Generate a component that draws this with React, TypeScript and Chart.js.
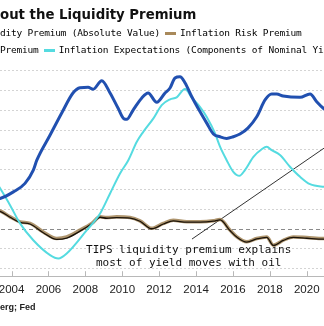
import React, { useEffect, useRef } from "react";
import { Chart, registerables } from "chart.js";

Chart.register(...registerables);

// ---- data ----
const TICK_YEARS = [2004, 2006, 2008, 2010, 2012, 2014, 2016, 2018, 2020];
const GRID_VALUES = [-0.2, -0.1, 0, 0.1, 0.2, 0.3, 0.4, 0.5, 0.6, 0.7, 0.8];

const RTP_YEARS = [2002.29, 2003.38, 2004.1, 2004.73, 2005.18, 2005.37, 2006.09, 2006.72, 2007.33, 2007.71, 2008.15, 2008.42, 2008.89, 2009.34, 2009.77, 2010.1, 2010.24, 2010.59, 2011.06, 2011.4, 2011.87, 2012.32, 2012.59, 2012.86, 2013.13, 2013.4, 2013.77, 2014.22, 2014.58, 2014.94, 2015.3, 2015.66, 2016.01, 2016.38, 2016.81, 2017.29, 2017.74, 2018.1, 2018.37, 2018.72, 2019.64, 2020.18, 2020.54, 2020.9, 2022.02];
const RTP_VALUES = [0.146, 0.155, 0.188, 0.231, 0.298, 0.348, 0.475, 0.586, 0.687, 0.714, 0.716, 0.706, 0.749, 0.687, 0.611, 0.556, 0.554, 0.601, 0.662, 0.687, 0.64, 0.687, 0.712, 0.763, 0.769, 0.739, 0.668, 0.592, 0.535, 0.48, 0.466, 0.458, 0.466, 0.48, 0.51, 0.567, 0.652, 0.682, 0.682, 0.672, 0.665, 0.682, 0.643, 0.61, 0.54];

const IE_YEARS = [2002.29, 2002.83, 2003.38, 2003.92, 2004.46, 2005.18, 2006.09, 2006.54, 2006.99, 2008.08, 2008.8, 2009.34, 2009.88, 2010.33, 2010.79, 2011.14, 2011.69, 2012.14, 2012.59, 2012.95, 2013.4, 2013.78, 2014.22, 2014.58, 2015.03, 2015.3, 2015.66, 2016.02, 2016.35, 2016.65, 2017.11, 2017.56, 2017.83, 2018.1, 2018.55, 2019.09, 2019.64, 2020.18, 2020.94, 2022.02];
const IE_VALUES = [0.348, 0.288, 0.206, 0.121, 0.029, -0.056, -0.131, -0.148, -0.123, -0.005, 0.079, 0.18, 0.281, 0.348, 0.441, 0.491, 0.559, 0.626, 0.655, 0.665, 0.707, 0.662, 0.616, 0.566, 0.483, 0.416, 0.348, 0.289, 0.269, 0.298, 0.365, 0.403, 0.416, 0.399, 0.374, 0.315, 0.264, 0.227, 0.214, 0.207];

const IRP_YEARS = [2002.29, 2003.38, 2003.92, 2004.46, 2005.0, 2005.72, 2006.45, 2006.99, 2007.71, 2008.35, 2008.8, 2009.16, 2009.7, 2010.42, 2010.96, 2011.6, 2012.23, 2012.77, 2013.5, 2014.22, 2014.94, 2015.3, 2015.84, 2016.21, 2016.75, 2017.29, 2017.83, 2018.19, 2018.73, 2019.27, 2020.0, 2020.9, 2022.02];
const IRP_VALUES = [0.111, 0.092, 0.062, 0.037, 0.029, -0.014, -0.047, -0.039, -0.005, 0.029, 0.062, 0.059, 0.062, 0.059, 0.042, 0.004, 0.029, 0.045, 0.037, 0.037, 0.042, 0.049, -0.005, -0.039, -0.064, -0.047, -0.039, -0.081, -0.056, -0.039, -0.042, -0.047, -0.045];

const LP_YEARS = [2002.29, 2003.38, 2003.92, 2004.46, 2005.0, 2005.72, 2006.45, 2006.99, 2007.71, 2008.35, 2008.8, 2009.16, 2009.7, 2010.42, 2010.96, 2011.6, 2012.23, 2012.77, 2013.5, 2014.22, 2014.94, 2015.3, 2015.84, 2016.21, 2016.75, 2017.29, 2017.83, 2018.19, 2018.73, 2019.27, 2020.0, 2020.9, 2022.02];
const LP_VALUES = [0.108, 0.09, 0.06, 0.034, 0.026, -0.018, -0.052, -0.045, -0.01, 0.027, 0.06, 0.055, 0.058, 0.056, 0.04, 0.002, 0.026, 0.042, 0.035, 0.035, 0.04, 0.047, -0.007, -0.04, -0.065, -0.049, -0.041, -0.082, -0.057, -0.042, -0.046, -0.05, -0.048];

const ARROW_YEARS = [2013.78, 2022.02];
const ARROW_VALUES = [-0.05, 0.478];

const NOTE_LINES = ["TIPS liquidity premium explains", "most of yield moves with oil"];
const NOTE_YEAR = 2013.6;
const NOTE_VALUES = [-0.108, -0.172];

const X_MIN = 2002.29;
const X_MAX = 2022.02;
const Y_MIN = -0.2374;
const Y_MAX = 0.8535;

const OFFSET_LEFT = 20;
const CANVAS_W = 364;
const CANVAS_H = 326;

const pts = (xs: number[], ys: number[]) => xs.map((x, i) => ({ x, y: ys[i] }));

const extrasPlugin = {
  id: "extras",
  afterDraw(chart: any) {
    const { ctx, scales, chartArea } = chart;
    const xs = scales.x;
    const ys = scales.y;
    ctx.save();
    ctx.strokeStyle = "#b8b8b8";
    ctx.lineWidth = 1;
    TICK_YEARS.forEach((t) => {
      const px = Math.round(xs.getPixelForValue(t)) + 0.5;
      ctx.beginPath();
      ctx.moveTo(px, chartArea.bottom);
      ctx.lineTo(px, chartArea.bottom - 5);
      ctx.stroke();
    });
    ctx.fillStyle = "#111";
    ctx.font = "11px 'DejaVu Sans Mono'";
    ctx.textAlign = "center";
    ctx.textBaseline = "middle";
    NOTE_LINES.forEach((line, i) => {
      ctx.fillText(line, xs.getPixelForValue(NOTE_YEAR), ys.getPixelForValue(NOTE_VALUES[i]));
    });
    ctx.restore();
  },
};

export default function App() {
  const ref = useRef<HTMLCanvasElement | null>(null);

  useEffect(() => {
    if (!ref.current) return;
    const common = { pointRadius: 0, pointHoverRadius: 0, fill: false, cubicInterpolationMode: "monotone" as const };
    const chart = new Chart(ref.current, {
      type: "line",
      data: {
        datasets: [
          { label: "Real Term Premium", data: pts(RTP_YEARS, RTP_VALUES), borderColor: "#2150b0", borderWidth: 3, ...common },
          { label: "Inflation Expectations", data: pts(IE_YEARS, IE_VALUES), borderColor: "#55dbe0", borderWidth: 2, ...common },
          { label: "TIPS Liquidity Premium (Absolute Value)", data: pts(LP_YEARS, LP_VALUES), borderColor: "#1a1208", borderWidth: 1.3, ...common },
          { label: "Inflation Risk Premium", data: pts(IRP_YEARS, IRP_VALUES), borderColor: "rgba(160,130,85,0.85)", borderWidth: 3.5, ...common },
          { label: "note", data: pts(ARROW_YEARS, ARROW_VALUES), borderColor: "#333", borderWidth: 1, pointRadius: 0, fill: false, tension: 0 },
        ] as any,
      },
      options: {
        animation: false,
        responsive: false,
        parsing: true,
        layout: { padding: { top: 60, bottom: 22, left: 0, right: 0 } },
        plugins: { legend: { display: false }, tooltip: { enabled: false }, title: { display: false } },
        scales: {
          x: {
            type: "linear",
            min: X_MIN,
            max: X_MAX,
            afterBuildTicks: (ax: any) => {
              ax.ticks = TICK_YEARS.map((v) => ({ value: v }));
            },
            grid: { display: false, drawTicks: false },
            border: { display: true, color: "#b8b8b8", width: 1 },
            ticks: {
              color: "#222",
              font: { family: "'Liberation Sans'", size: 11.5 },
              padding: 7,
              maxRotation: 0,
              autoSkip: false,
              callback: (v: any) => String(Math.round(Number(v))),
            },
          },
          y: {
            position: "right",
            min: Y_MIN,
            max: Y_MAX,
            afterBuildTicks: (ax: any) => {
              ax.ticks = GRID_VALUES.map((v) => ({ value: v }));
            },
            ticks: { display: false },
            grid: {
              drawTicks: false,
              color: (c: any) => (c.tick && Math.abs(c.tick.value) < 1e-9 ? "#8a8a8a" : "#d4d4d4"),
              lineWidth: 1,
            },
            border: {
              display: false,
              dash: (c: any) => (c.tick && Math.abs(c.tick.value) < 1e-9 ? [4, 3] : [2, 2]),
            } as any,
          },
        },
      } as any,
      plugins: [extrasPlugin],
    });
    return () => chart.destroy();
  }, []);

  const mono = "'DejaVu Sans Mono', monospace";
  const dash = (color: string) => (
    <span style={{ display: "inline-block", width: 11, height: 2.5, background: color, margin: "0 4px 0 5px", verticalAlign: "middle" }} />
  );
  const pre: React.CSSProperties = { position: "absolute", right: "100%", whiteSpace: "nowrap" };

  return (
    <div style={{ position: "fixed", left: 0, top: 0, width: 324, height: 326, overflow: "hidden", background: "#fff" }}>
      <div style={{ position: "absolute", left: -OFFSET_LEFT, top: 0, width: CANVAS_W, height: CANVAS_H }}>
        <canvas ref={ref} width={CANVAS_W} height={CANVAS_H} />
      </div>
      <div style={{ position: "absolute", left: 0, top: 7, whiteSpace: "nowrap", font: "bold 13.3px 'DejaVu Sans'", lineHeight: "16px", color: "#111" }}>
        <span style={pre}>Doubts Ab</span>out the Liquidity Premium
      </div>
      <div style={{ position: "absolute", left: 0, top: 27, whiteSpace: "nowrap", fontFamily: mono, fontSize: 9.5, letterSpacing: -0.2, lineHeight: "12px", color: "#000" }}>
        <span style={pre}>{dash("#1a1208")}TIPS Liqui</span>dity Premium (Absolute Value){dash("#a8895a")}Inflation Risk Premium
      </div>
      <div style={{ position: "absolute", left: 0, top: 44, whiteSpace: "nowrap", fontFamily: mono, fontSize: 9.5, letterSpacing: -0.2, lineHeight: "12px", color: "#000" }}>
        <span style={pre}>{dash("#2150b0")}Real Term </span>Premium{dash("#55dbe0")}Inflation Expectations (Components of Nominal Yields)
      </div>
      <div style={{ position: "absolute", left: 0, top: 302, whiteSpace: "nowrap", font: "bold 9px 'Liberation Sans'", lineHeight: "11px", color: "#222" }}>
        <span style={pre}>Source: Bloomb</span>erg; Fed
      </div>
    </div>
  );
}
